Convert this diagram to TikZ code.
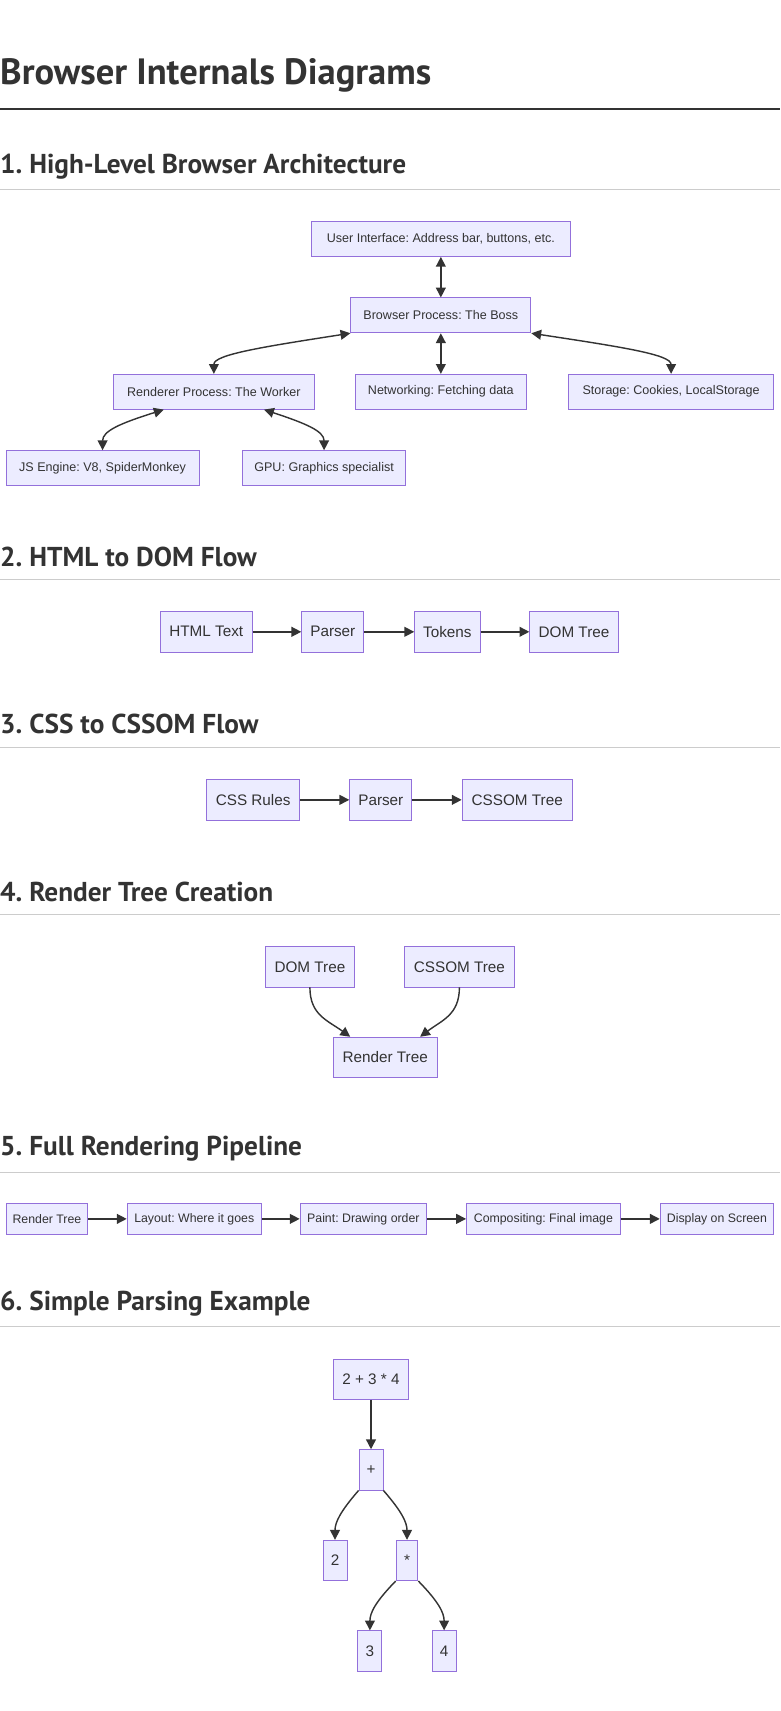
\documentclass[tikz,border=0pt]{standalone}
\usepackage{fontspec}
\setmainfont{Liberation Sans}
\newfontfamily\headfont{PT Sans}
\usetikzlibrary{arrows.meta}
\definecolor{nfill}{HTML}{ECECFF}
\definecolor{nline}{HTML}{9370DB}
\definecolor{ink}{HTML}{333333}
\frenchspacing
\begin{document}
\frenchspacing
\begin{tikzpicture}[x=1pt,y=-1pt,
  nd/.style={draw=nline,fill=nfill,line width=0.8pt,text=ink,inner sep=0pt,minimum height=32pt},
  sm/.style={nd,font=\frenchspacing\fontsize{11.5}{13}\selectfont,minimum height=32pt},
  md/.style={nd,font=\frenchspacing\fontsize{14}{16}\selectfont,minimum height=37pt},
  ps/.style={nd,font=\frenchspacing\fontsize{11.3}{13}\selectfont,minimum height=29pt},
  ar/.style={draw=ink,line width=1.3pt,-{Triangle[length=9pt,width=9pt]}},
  dar/.style={draw=ink,line width=1.3pt,{Triangle[length=9pt,width=9pt]}-{Triangle[length=9pt,width=9pt]}},
  h1/.style={anchor=west,inner sep=0pt,text=ink,font=\headfont\bfseries\fontsize{33.5}{36}\selectfont},
  h2/.style={anchor=west,inner sep=0pt,text=ink,font=\headfont\bfseries\fontsize{25}{28}\selectfont},
  rule/.style={draw=black!20,line width=0.8pt}]
\useasboundingbox (0,0) rectangle (715,1568);
\fill[white] (0,0) rectangle (715,1568);
\node[h1] (t) at (0,69) {Browser Internals Diagrams};
\draw[ink,line width=1.8pt] (0,100) -- (715,100);
\node[h2] (s1) at (0,153) {1. High-Level Browser Architecture};
\draw[rule] (0,174) -- (715,174);
\node[h2] (s2) at (0,510) {2. HTML to DOM Flow};
\draw[rule] (0,531) -- (715,531);
\node[h2] (s3) at (0,663) {3. CSS to CSSOM Flow};
\draw[rule] (0,685) -- (715,685);
\node[h2] (s4) at (0,817) {4. Render Tree Creation};
\draw[rule] (0,838) -- (715,838);
\node[h2] (s5) at (0,1053) {5. Full Rendering Pipeline};
\draw[rule] (0,1074) -- (715,1074);
\node[h2] (s6) at (0,1195) {6. Simple Parsing Example};
\draw[rule] (0,1216) -- (715,1216);
% section 1
\node[sm,minimum width=237pt] (ui) at (404,219) {User Interface: Address bar, buttons, etc.};
\node[sm,minimum width=165pt] (bp) at (404,289) {Browser Process: The Boss};
\node[sm,minimum width=184pt] (rp) at (196,359) {Renderer Process: The Worker};
\node[sm,minimum width=156pt] (nw) at (404,359) {Networking: Fetching data};
\node[sm,minimum width=188pt] (st) at (615,359) {Storage: Cookies, LocalStorage};
\node[sm,minimum width=177pt] (js) at (94,429) {JS Engine: V8, SpiderMonkey};
\node[sm,minimum width=150pt] (gpu) at (297,429) {GPU: Graphics specialist};
\draw[dar] (ui) -- (bp);
\draw[dar] (bp) -- (nw);
\draw[dar] (bp.south west) .. controls (240,318) and (196,325) .. (rp.north);
\draw[dar] (bp.south east) .. controls (570,318) and (615,325) .. (st.north);
\draw[dar] ([xshift=-46pt]rp.south) .. controls (110,388) and (94,395) .. (js.north);
\draw[dar] ([xshift=46pt]rp.south) .. controls (280,388) and (297,395) .. (gpu.north);
% section 2
\node[md,minimum width=84pt] (html) at (189,579) {HTML Text};
\node[md,minimum width=57pt] (p1) at (305,579) {Parser};
\node[md,minimum width=60pt] (tok) at (410,579) {Tokens};
\node[md,minimum width=81pt] (dom) at (526,579) {DOM Tree};
\draw[ar] (html) -- (p1);
\draw[ar] (p1) -- (tok);
\draw[ar] (tok) -- (dom);
% section 3
\node[md,minimum width=85pt] (css) at (232,733) {CSS Rules};
\node[md,minimum width=57pt] (p2) at (349,733) {Parser};
\node[md,minimum width=101pt] (cssom) at (474,733) {CSSOM Tree};
\draw[ar] (css) -- (p2);
\draw[ar] (p2) -- (cssom);
% section 4
\node[md,minimum width=81pt] (dom4) at (284,886) {DOM Tree};
\node[md,minimum width=101pt] (cssom4) at (421,886) {CSSOM Tree};
\node[md,minimum width=95pt] (rt) at (353,969) {Render Tree};
\draw[ar] (dom4.south) .. controls (284,930) and (300,935) .. ([xshift=-32pt]rt.north);
\draw[ar] (cssom4.south) .. controls (421,930) and (405,935) .. ([xshift=32pt]rt.north);
% section 5
\node[ps,minimum width=75pt] (r5) at (43,1117) {Render Tree};
\node[ps,minimum width=123pt] (lay) at (178,1117) {Layout: Where it goes};
\node[ps,minimum width=116pt] (pai) at (333,1117) {Paint: Drawing order};
\node[ps,minimum width=141pt] (com) at (498,1117) {Compositing: Final image};
\node[ps,minimum width=104pt] (dis) at (657,1117) {Display on Screen};
\draw[ar] (r5) -- (lay);
\draw[ar] (lay) -- (pai);
\draw[ar] (pai) -- (com);
\draw[ar] (com) -- (dis);
% section 6
\node[md,minimum width=69pt] (ex) at (340,1264) {2 + 3 * 4};
\node[md,minimum width=22pt] (plus) at (340,1347) {+};
\node[md,minimum width=22pt] (two) at (307,1430) {2};
\node[md,minimum width=20pt] (mul) at (373,1430) {*};
\node[md,minimum width=22pt] (three) at (339,1513) {3};
\node[md,minimum width=22pt] (four) at (407,1513) {4};
\draw[ar] (ex) -- (plus);
\draw[ar] (plus.south west) .. controls (312,1385) and (307,1395) .. (two.north);
\draw[ar] (plus.south east) .. controls (368,1385) and (373,1395) .. (mul.north);
\draw[ar] (mul.south west) .. controls (344,1468) and (339,1478) .. (three.north);
\draw[ar] (mul.south east) .. controls (402,1468) and (407,1478) .. (four.north);
\end{tikzpicture}
\end{document}
